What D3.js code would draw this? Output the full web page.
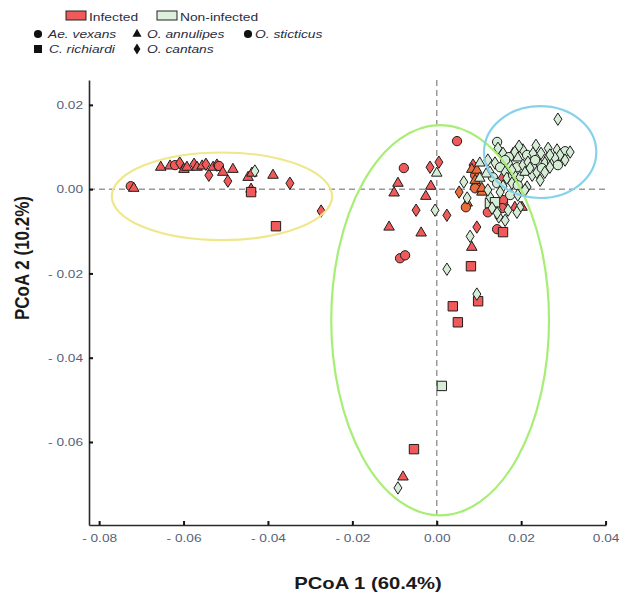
<!DOCTYPE html>
<html><head><meta charset="utf-8">
<script src="https://cdn.jsdelivr.net/npm/d3@7/dist/d3.min.js"></script>
<style>body{margin:0;background:#fff;}svg{display:block;font-family:"Liberation Sans",Arial,sans-serif;}</style>
</head><body><svg id="c" width="621" height="593"></svg>
<script>
// ---- data ----
const xTicks = [-0.08, -0.06, -0.04, -0.02, 0, 0.02, 0.04];
const yTicks = [0.02, 0, -0.02, -0.04, -0.06];
const speciesCodes = ["V", "A", "S", "R", "C"];
const speciesNames = ["Ae. vexans", "O. annulipes", "O. sticticus", "C. richiardi", "O. cantans"];
const statusNames = ["Infected", "Non-infected"];
// [species, PCoA1, PCoA2]
const infected = [
 ["V",-0.0725,0.0007],["A",-0.0718,0.0002],["A",-0.0654,0.0052],["A",-0.0632,0.0055],["V",-0.0620,0.0057],
 ["C",-0.0609,0.0062],["A",-0.0599,0.0047],["A",-0.0592,0.0052],["C",-0.0575,0.0059],["A",-0.0568,0.0052],
 ["A",-0.0556,0.0055],["C",-0.0547,0.0059],["C",-0.0540,0.0033],["A",-0.0530,0.0052],["C",-0.0521,0.0057],
 ["V",-0.0516,0.0055],["A",-0.0507,0.0040],["C",-0.0495,0.0019],["A",-0.0483,0.0047],["A",-0.0447,0.0028],
 ["A",-0.0438,0.0038],["A",-0.0440,0.0000],["R",-0.0440,-0.0007],["A",-0.0388,0.0033],["C",-0.0348,0.0014],
 ["C",-0.0274,-0.0052],["R",-0.0381,-0.0088],
 ["S",0.0048,0.0114],["V",-0.0078,0.0050],["C",-0.0016,0.0052],["C",0.0005,0.0064],["A",-0.0092,0.0014],
 ["A",-0.0101,-0.0009],["A",-0.0014,0.0007],["A",-0.0026,-0.0017],["C",-0.0049,-0.0050],["C",0.0024,-0.0062],
 ["A",-0.0113,-0.0090],["A",-0.0037,-0.0104],["C",0.0095,-0.0090],["A",0.0083,-0.0138],["V",0.0121,-0.0055],
 ["S",0.0157,-0.0031],["V",0.0143,-0.0095],["R",0.0157,-0.0102],["A",0.0185,-0.0043],["A",0.0202,-0.0043],
 ["V",-0.0087,-0.0164],["S",-0.0075,-0.0157],["R",0.0081,-0.0183],["R",0.0098,-0.0266],["R",0.0038,-0.0278],
 ["R",0.0050,-0.0316],["R",-0.0054,-0.0617],["A",-0.0080,-0.0683],
 ["C",0.0155,0.0026],["A",0.0181,0.0085],["C",0.0086,0.0057],["V",0.0157,-0.0026],["S",0.0155,-0.0045]
];
const infectedOrange = [
 ["A",0.0083,0.0047],["S",0.0091,0.0033],["A",0.0093,0.0014],["C",0.0053,-0.0007],["S",0.0091,0.0002],
 ["A",0.0107,-0.0007],["A",0.0072,-0.0033],["S",0.0069,-0.0043],["A",0.0095,0.0045],["A",0.0091,0.0021],
 ["A",0.0107,0.0002]
];
const nonInfected = [
 ["C",-0.0431,0.0043],["A",0.0000,0.0038],["C",-0.0004,-0.0050],["C",0.0064,0.0017],["C",0.0072,-0.0021],
 ["C",0.0079,-0.0112],["R",0.0126,-0.0033],["C",0.0143,-0.0050],["C",0.0147,-0.0066],["C",0.0024,-0.0190],
 ["C",0.0095,-0.0249],["R",0.0012,-0.0467],["C",-0.0092,-0.0709],
 ["C",0.0287,0.0166],["S",0.0143,0.0112],["C",0.0157,0.0085],["S",0.0171,0.0076],["C",0.0185,0.0088],
 ["A",0.0192,0.0074],["C",0.0204,0.0093],["V",0.0214,0.0081],["C",0.0228,0.0085],["C",0.0247,0.0085],
 ["C",0.0264,0.0076],["C",0.0285,0.0093],["S",0.0304,0.0090],["C",0.0292,0.0081],["C",0.0138,0.0062],
 ["S",0.0150,0.0052],["C",0.0162,0.0040],["C",0.0173,0.0057],["V",0.0190,0.0052],["C",0.0204,0.0057],
 ["C",0.0216,0.0064],["S",0.0233,0.0052],["C",0.0245,0.0057],["C",0.0256,0.0062],["V",0.0273,0.0064],
 ["C",0.0280,0.0074],["C",0.0126,0.0040],["S",0.0133,0.0028],["C",0.0166,0.0026],["V",0.0181,0.0033],
 ["C",0.0197,0.0028],["A",0.0209,0.0040],["C",0.0226,0.0033],["C",0.0237,0.0040],["S",0.0249,0.0050],
 ["C",0.0268,0.0052],["V",0.0143,0.0014],["C",0.0157,0.0007],["C",0.0178,0.0014],["S",0.0192,0.0009],
 ["C",0.0214,0.0005],["C",0.0126,-0.0019],["R",0.0138,-0.0031],["C",0.0169,-0.0050],["C",0.0197,-0.0043],
 ["C",0.0190,-0.0055],["C",0.0143,-0.0057],["A",0.0117,0.0036],["A",0.0102,0.0062],["C",0.0235,0.0104],
 ["C",0.0264,0.0097],["C",0.0195,0.0102],
 ["C",0.0121,0.0069],["S",0.0162,0.0069],["C",0.0178,0.0045],["C",0.0221,0.0050],["C",0.0256,0.0040],
 ["V",0.0287,0.0057],["C",0.0304,0.0069],["C",0.0316,0.0088],["A",0.0102,0.0026],["C",0.0121,-0.0002],
 ["C",0.0150,-0.0007],["S",0.0174,-0.0014],["C",0.0192,-0.0014],["C",0.0209,-0.0002],["C",0.0162,-0.0074],
 ["C",0.0131,-0.0045],["C",0.0245,0.0021],["V",0.0233,0.0069],["C",0.0268,0.0081],["C",0.0145,0.0097]
];
// ellipses: [centerX, centerY, radiusX, radiusY] in data units
const ellipseNames = ["left", "middle", "right"];
const ellipseParams = [[-0.0509,-0.0017,0.0261,0.0104],[0.0008,-0.0311,0.0258,0.0463],[0.0245,0.0088,0.0133,0.0109]];
const ellipseColors = ["#efe78c", "#a6ee74", "#86d2ea"];

// ---- drawing ----
const svg = d3.select("#c");
const x = d3.scaleLinear().domain([-0.0824, 0.0401]).range([89, 606]);
const y = d3.scaleLinear().domain([-0.0797, 0.0259]).range([525, 80]);
const SX = 1.19;
const fillFor = {I:"#f05a5a", O:"#ea6d3c", N:"#d5ecd5"};

function shapePath(code, legend){
  if(code==="V"||code==="S") return d3.symbol(d3.symbolCircle, legend?52:68)();
  if(code==="A") return d3.symbol(d3.symbolTriangle, legend?36:48)();
  if(code==="R") return d3.symbol(d3.symbolSquare, legend?64:88)();
  const w = legend?3.4:4.0, h = legend?5.5:6.2;
  return `M0,${-h}L${w},0L0,${h}L${-w},0Z`;
}
const fmt = d => d < 0 ? "- " + Math.abs(d).toFixed(2) : d.toFixed(2);

// dashed reference lines
svg.append("line").attr("x1", x.range()[0]).attr("x2", x.range()[1]).attr("y1", y(0)).attr("y2", y(0))
  .attr("stroke", "#9a9a9a").attr("stroke-width", 1.5).attr("stroke-dasharray", "6,4");
svg.append("line").attr("x1", x(0)).attr("x2", x(0)).attr("y1", y.range()[1]).attr("y2", y.range()[0])
  .attr("stroke", "#9a9a9a").attr("stroke-width", 1.5).attr("stroke-dasharray", "6,4");

// points
function drawGroup(arr, st){
  svg.append("g").selectAll("path").data(arr).join("path")
    .attr("d", d => shapePath(d[0], false))
    .attr("transform", d => `translate(${x(d[1])},${y(d[2])})`)
    .attr("fill", fillFor[st]).attr("stroke", "#1e1e1e").attr("stroke-width", 1);
}
drawGroup(infected, "I");
drawGroup(infectedOrange, "O");
drawGroup(nonInfected, "N");

// ellipses
svg.append("g").selectAll("ellipse").data(ellipseParams).join("ellipse")
  .attr("cx", d => x(d[0])).attr("cy", d => y(d[1]))
  .attr("rx", d => x(d[0] + d[2]) - x(d[0])).attr("ry", d => y(d[1] - d[3]) - y(d[1]))
  .attr("fill", "none").attr("stroke", (d,i) => ellipseColors[i]).attr("stroke-width", 2.2);

// axes
const xAxis = svg.append("g").attr("transform", `translate(0,${y.range()[0]})`)
  .call(d3.axisBottom(x).tickValues(xTicks).tickFormat(fmt).tickSizeInner(-4).tickSizeOuter(0).tickPadding(7));
const yAxis = svg.append("g").attr("transform", `translate(${x.range()[0]},0)`)
  .call(d3.axisLeft(y).tickValues(yTicks).tickFormat(fmt).tickSizeInner(-4).tickSizeOuter(0).tickPadding(5));
[xAxis, yAxis].forEach(a => {
  a.select(".domain").attr("stroke", "#2a2a2a").attr("stroke-width", 1.6);
  a.selectAll(".tick line").attr("stroke", "#111").attr("stroke-width", 2);
  a.selectAll(".tick text").attr("fill", "#56627a").attr("font-size", 11.5)
    .attr("font-family", "Liberation Sans, Arial, sans-serif").attr("transform", `scale(${SX},1)`);
});
xAxis.selectAll(".tick text").attr("dy", "0.85em");

// axis titles
svg.append("text").attr("transform", `translate(368,589) scale(${SX},1)`).attr("text-anchor", "middle")
  .attr("font-weight", "bold").attr("font-size", 17).attr("fill", "#1a1a1a").text("PCoA 1 (60.4%)");
svg.append("text").attr("transform", `translate(29,258) scale(${SX},1) rotate(-90)`).attr("text-anchor", "middle")
  .attr("font-weight", "bold").attr("font-size", 17).attr("fill", "#1a1a1a").text("PCoA 2 (10.2%)");

// legend
const leg = svg.append("g");
const statusFill = [fillFor.I, "#dcf0dc"];
const statusX = [66, 157];
statusNames.forEach((s,i) => {
  leg.append("rect").attr("x", statusX[i]).attr("y", 11).attr("width", 20).attr("height", 9)
    .attr("fill", statusFill[i]).attr("stroke", "#222").attr("stroke-width", 1);
  leg.append("text").attr("transform", `translate(${statusX[i]+23},20.5) scale(${SX},1)`)
    .attr("font-size", 11.6).attr("fill", "#2a2e40").text(s);
});
const legPos = [[38,34],[137,34],[248,34],[38,49],[137,49]];
const legTextX = [48, 147, 255, 49, 147];
speciesCodes.forEach((c,i) => {
  leg.append("path").attr("d", shapePath(c, true))
    .attr("transform", `translate(${legPos[i][0]},${legPos[i][1]})`).attr("fill", "#111");
  leg.append("text").attr("transform", `translate(${legTextX[i]},${legPos[i][1]+4}) scale(${SX},1)`)
    .attr("font-size", 11.6).attr("font-style", "italic").attr("fill", "#2a2e40").text(speciesNames[i]);
});
</script></body></html>
